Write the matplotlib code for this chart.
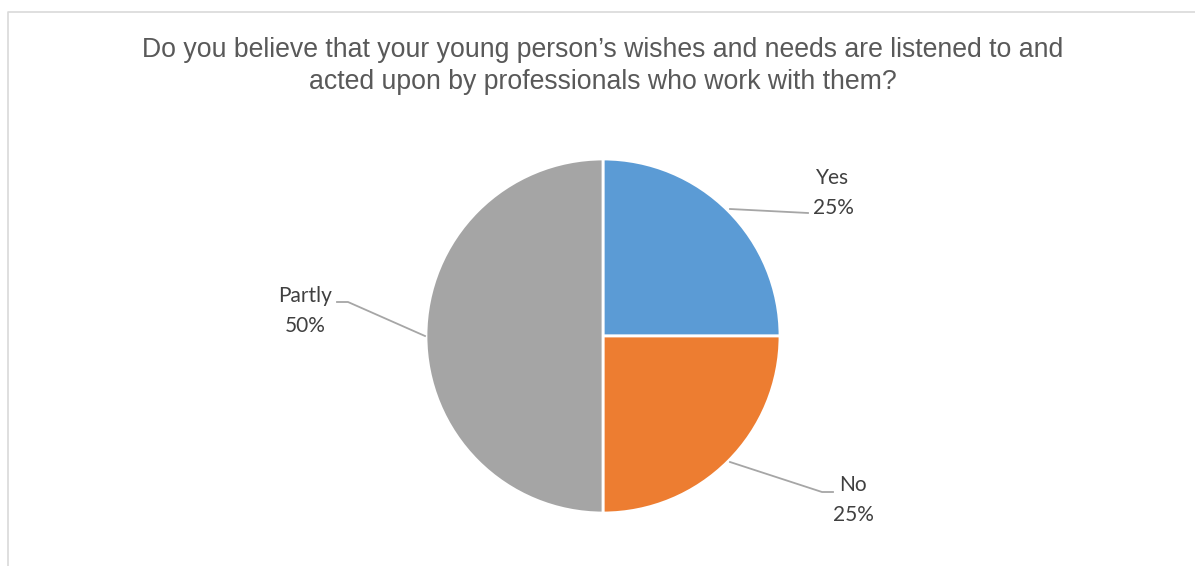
import matplotlib
matplotlib.use("Agg")
import matplotlib.pyplot as plt

# Survey answers
categories = ["Yes", "No", "Partly"]
shares = [25, 25, 50]
colors = ["#5B9BD5", "#ED7D31", "#A5A5A5"]
title = ("Do you believe that your young person\u2019s wishes and needs are listened to and\n"
         "acted upon by professionals who work with them?")

W, H = 1195, 566
fig = plt.figure(figsize=(W / 100, H / 100), dpi=100)
ax = fig.add_axes([0, 0, 1, 1])

# chart frame (top and left edges visible)
ax.plot([8, 8, W + 5], [-5, H - 12, H - 12], color="#D9D9D9", lw=1.2, clip_on=False)

cx, cy, r = 603, H - 336, 177
wedges, _ = ax.pie(shares, colors=colors, startangle=90, counterclock=False,
                   center=(cx, cy), radius=r, frame=True,
                   wedgeprops=dict(edgecolor="white", linewidth=2))
ax.set_xlim(0, W)
ax.set_ylim(0, H)
ax.set_aspect("equal")
ax.axis("off")

fig.text(603 / W, 1 - 66 / H, title, ha="center", va="center",
         fontsize=19.2, color="#595959", family="Liberation Sans",
         linespacing=1.26)

# data labels with leader lines (pixel positions from top-left)
label_pos = {"Yes": (833, 193), "No": (853, 500), "Partly": (305, 311)}
leaders = {
    "Yes": [(730, 209), (808, 213)],
    "No": [(730, 462), (822, 492), (833, 492)],
    "Partly": [(425, 336), (348, 302), (337, 302)],
}
for cat, val in zip(categories, shares):
    pts = leaders[cat]
    ax.plot([p[0] for p in pts], [H - p[1] for p in pts], color="#A6A6A6", lw=1.3)
    x, y = label_pos[cat]
    ax.text(x, H - y, f"{cat}\n{val}%", ha="center", va="center",
            fontsize=15, color="#404040", family="Lato", linespacing=1.62)

fig.savefig("out.png", dpi=100, facecolor="white")
